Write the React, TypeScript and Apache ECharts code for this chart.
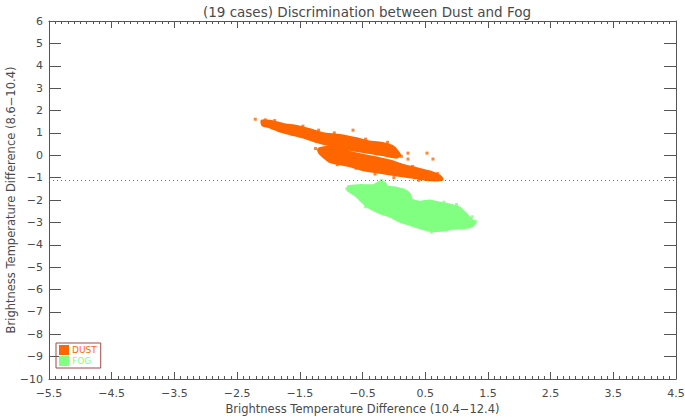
import React, { useEffect, useRef } from "react";
import * as echarts from "echarts";

// ---- data ----
const X_MIN = -5.5;
const X_MAX = 4.5;
const Y_MIN = -10;
const Y_MAX = 6;
const xTickLabels = ["−5.5", "−4.5", "−3.5", "−2.5", "−1.5", "−0.5", "0.5", "1.5", "2.5", "3.5", "4.5"];
const thresholdY = -1.1;

// Outline of the dense DUST cloud, upper band (BTD 10.4-12.4, BTD 8.6-10.4)
const dustUpperBand: [number, number][] = [
  [-2.108, 1.536], [-1.975, 1.536], [-1.762, 1.387], [-1.55, 1.298], [-1.337, 1.15],
  [-1.124, 0.972], [-0.859, 0.897], [-0.593, 0.749], [-0.38, 0.6], [-0.168, 0.526],
  [-0.008, 0.377], [0.098, 0.006], [0.045, -0.098], [-0.168, 0.006], [-0.38, 0.11],
  [-0.593, 0.2], [-0.806, 0.3], [-1.018, 0.45], [-1.231, 0.6], [-1.443, 0.8],
  [-1.656, 0.95], [-1.816, 1.07], [-1.975, 1.25], [-2.092, 1.343],
];
// Outline of the dense DUST cloud, lower band
const dustLowerBand: [number, number][] = [
  [-1.204, 0.28], [-1.018, 0.38], [-0.806, 0.26], [-0.699, 0.14], [-0.486, 0.006],
  [-0.274, -0.113], [-0.061, -0.246], [0.151, -0.44], [0.364, -0.588], [0.577, -0.737],
  [0.736, -0.93], [0.774, -1.078], [0.577, -1.108], [0.364, -1.019], [0.045, -0.9],
  [-0.274, -0.752], [-0.486, -0.662], [-0.699, -0.484], [-1.018, -0.291], [-1.124, -0.068],
  [-1.188, 0.11],
];
// Isolated / edge DUST points
const dustOutliers: [number, number][] = [
  [-2.21, 1.61], [-0.651, 1.12], [0.226, 0.095], [0.529, 0.095], [0.226, -0.17],
  [0.624, -0.17], [-0.03, 0.32], [-0.27, 0.54], [-0.19, 0.5], [-2.05, 1.58], [-1.9, 1.55],
  [-1.45, 1.3], [-1.2, 1.12], [-0.95, 1.0], [-0.45, 0.72], [-0.1, 0.58], [0.12, -0.05],
  [-0.6, -0.58], [-0.3, -0.84], [0.0, -1.0], [0.4, -1.12], [-0.9, -0.42], [-1.25, 0.3],
  [0.7, -0.82], [0.3, -0.5],
];
// Outline of the dense FOG cloud
const fogCloud: [number, number][] = [
  [-0.726, -1.39], [-0.54, -1.346], [-0.327, -1.346], [-0.221, -1.197], [-0.141, -1.242],
  [-0.115, -1.39], [0.045, -1.465], [0.204, -1.613], [0.257, -1.762], [0.284, -1.985],
  [0.417, -2.089], [0.576, -2.029], [0.736, -2.133], [0.895, -2.207], [1.055, -2.356],
  [1.161, -2.653], [1.241, -2.876], [1.294, -3.024], [1.241, -3.173], [1.108, -3.247],
  [0.949, -3.277], [0.736, -3.366], [0.576, -3.366], [0.417, -3.247], [0.257, -3.099],
  [0.098, -2.95], [-0.062, -2.727], [-0.221, -2.579], [-0.381, -2.356], [-0.513, -2.059],
  [-0.62, -1.762], [-0.726, -1.583],
];
const fogOutliers: [number, number][] = [
  [-0.2, -1.12], [1.0, -2.2], [1.25, -2.75], [0.8, -2.1], [1.3, -2.95], [0.6, -3.42],
  [-0.45, -2.3], [0.15, -1.55], [-0.75, -1.5],
];

const DUST_COLOR = "#ff6600";
const FOG_COLOR = "#80ff80";
const AXIS_COLOR = "#555555";
const TEXT_COLOR = "#4a4a4a";
const FONT = "DejaVu Sans";

function cloudSeries(name: string, outline: [number, number][], color: string) {
  return {
    type: "custom",
    name,
    xAxisIndex: 0,
    yAxisIndex: 0,
    data: outline,
    encode: { x: 0, y: 1 },
    itemStyle: { color },
    renderItem: (params: any, api: any) => {
      if (params.dataIndex !== 0) return null;
      return {
        type: "polygon",
        shape: { points: outline.map((p) => api.coord(p)), smooth: 0.2 },
        style: { fill: color, stroke: color, lineWidth: 2.5, lineJoin: "round" },
      };
    },
    silent: true,
  };
}

export default function App() {
  const ref = useRef<HTMLDivElement>(null);
  useEffect(() => {
    if (!ref.current) return;
    const chart = echarts.init(ref.current, undefined, { renderer: "svg" });
    const displayX = (position: "bottom" | "top", labels: boolean) => ({
      type: "value",
      position,
      min: 0,
      max: X_MAX - X_MIN,
      interval: 1,
      axisLine: { show: true, onZero: false, lineStyle: { color: AXIS_COLOR, width: 1 } },
      axisTick: { show: true, inside: true, length: 7, lineStyle: { color: AXIS_COLOR } },
      minorTick: { show: true, splitNumber: 10, length: 3, lineStyle: { color: AXIS_COLOR } },
      splitLine: { show: false },
      axisLabel: {
        show: labels,
        margin: 9,
        color: TEXT_COLOR,
        fontFamily: FONT,
        fontSize: 11,
        formatter: (v: number) => xTickLabels[Math.round(v)] ?? "",
      },
      name: labels ? "Brightness Temperature Difference (10.4−12.4)" : "",
      nameLocation: "middle",
      nameGap: 24,
      nameMoveOverlap: false,
      nameTextStyle: { color: TEXT_COLOR, fontFamily: FONT, fontSize: 11.5 },
    });
    const yAx = (position: "left" | "right", labels: boolean) => ({
      type: "value",
      position,
      min: Y_MIN,
      max: Y_MAX,
      interval: 1,
      axisLine: { show: true, onZero: false, lineStyle: { color: AXIS_COLOR, width: 1 } },
      axisTick: { show: true, inside: true, length: 12, lineStyle: { color: AXIS_COLOR } },
      splitLine: { show: false },
      axisLabel: {
        show: labels,
        margin: 6,
        color: TEXT_COLOR,
        fontFamily: FONT,
        fontSize: 11,
        formatter: (v: number) => (v < 0 ? "−" + Math.abs(v) : String(v)),
      },
      name: labels ? "Brightness Temperature Difference (8.6−10.4)" : "",
      nameLocation: "middle",
      nameGap: 32,
      nameMoveOverlap: false,
      nameTextStyle: { color: TEXT_COLOR, fontFamily: FONT, fontSize: 11.5 },
    });
    chart.setOption({
      animation: false,
      backgroundColor: "#ffffff",
      title: {
        text: "(19 cases) Discrimination between Dust and Fog",
        left: 362,
        textAlign: "center",
        top: 0,
        textStyle: { color: TEXT_COLOR, fontFamily: FONT, fontSize: 13.5, fontWeight: "normal" },
      },
      grid: { left: 49, right: 9, top: 21, bottom: 38, containLabel: false, outerBoundsMode: "none" },
      xAxis: [
        { type: "value", min: X_MIN, max: X_MAX, show: false },
        displayX("bottom", true),
        displayX("top", false),
      ],
      yAxis: [yAx("left", true), yAx("right", false)],
      legend: {
        orient: "vertical",
        left: 56,
        top: 343,
        padding: [2, 4, 2, 3],
        itemGap: 1,
        itemWidth: 10,
        itemHeight: 10,
        borderColor: "#a04848",
        borderWidth: 1,
        borderRadius: 0,
        icon: "rect",
        selectedMode: false,
        textStyle: { fontFamily: FONT, fontSize: 9, padding: [0, 0, 0, -2] },
        data: [
          { name: "DUST", textStyle: { color: DUST_COLOR } },
          { name: "FOG", textStyle: { color: FOG_COLOR } },
        ],
      },
      series: [
        cloudSeries("DUST", dustUpperBand, DUST_COLOR),
        cloudSeries("DUST", dustLowerBand, DUST_COLOR),
        cloudSeries("FOG", fogCloud, FOG_COLOR),
        {
          type: "scatter",
          name: "DUST",
          data: dustOutliers,
          symbol: "rect",
          symbolSize: 3,
          itemStyle: { color: DUST_COLOR },
          silent: true,
        },
        {
          type: "scatter",
          name: "FOG",
          data: fogOutliers,
          symbol: "rect",
          symbolSize: 3,
          itemStyle: { color: FOG_COLOR },
          silent: true,
          markLine: {
            silent: true,
            symbol: "none",
            label: { show: false },
            lineStyle: { color: "#5a5aff", type: [1, 3], width: 1 },
            data: [{ yAxis: thresholdY }],
          },
        },
      ],
    });
    return () => chart.dispose();
  }, []);
  return (
    <div
      ref={ref}
      style={{ position: "fixed", left: 0, top: 0, width: 685, height: 417, background: "#fff" }}
    />
  );
}
